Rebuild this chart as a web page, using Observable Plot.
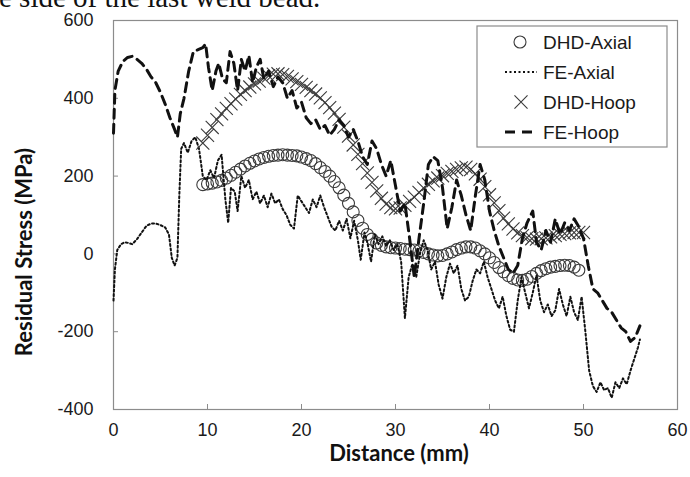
<!DOCTYPE html>
<html>
<head>
<meta charset="utf-8">
<script src="https://cdn.jsdelivr.net/npm/d3@7"></script>
<script src="https://cdn.jsdelivr.net/npm/@observablehq/plot@0.6"></script>
<style>
  html, body { margin: 0; padding: 0; background: #fff; }
  #chart { position: relative; width: 690px; height: 477px; overflow: hidden; }
</style>
</head>
<body>
<div id="chart"></div>
<script>
// Residual stress profiles: deep-hole drilling (DHD) measurements vs finite element (FE) predictions

const seriesNames = ["DHD-Axial", "FE-Axial", "DHD-Hoop", "FE-Hoop"];
const xTicks = [0, 10, 20, 30, 40, 50, 60];
const yTicks = [-400, -200, 0, 200, 400, 600];
const xTitle = "Distance (mm)";
const yTitle = "Residual Stress (MPa)";
const captionFragment = "e side of the last weld bead.";

const dhdAxialX = [9.5, 10, 10.5, 11, 11.5, 12, 12.5, 13, 13.5, 14, 14.5, 15, 15.5, 16, 16.5, 17, 17.5, 18, 18.5, 19, 19.5, 20, 20.5, 21, 21.5, 22, 22.5, 23, 23.5, 24, 24.5, 25, 25.5, 26, 26.5, 27, 27.5, 28, 28.5, 29, 29.5, 30, 30.5, 31, 31.5, 32, 32.5, 33, 33.5, 34, 34.5, 35, 35.5, 36, 36.5, 37, 37.5, 38, 38.5, 39, 39.5, 40, 40.5, 41, 41.5, 42, 42.5, 43, 43.5, 44, 44.5, 45, 45.5, 46, 46.5, 47, 47.5, 48, 48.5, 49, 49.5];
const dhdAxialY = [178, 180, 182, 185, 189, 195, 202, 210, 218, 226, 233, 239, 244, 248, 251, 253, 254, 255, 254, 253, 252, 249, 245, 240, 232, 222, 212, 200, 186, 170, 151, 130, 108, 86, 66, 50, 38, 28, 22, 18, 16, 15, 14, 12, 11, 10, 8, 4, 0, -3, -5, -4, 0, 5, 11, 15, 18, 18, 15, 8, 0, -10, -22, -35, -46, -56, -63, -67, -68, -65, -58, -50, -43, -38, -34, -32, -30, -29, -30, -34, -42];

const dhdHoopX = [9.5, 10, 10.5, 11, 11.5, 12, 12.5, 13, 13.5, 14, 14.5, 15, 15.5, 16, 16.5, 17, 17.5, 18, 18.5, 19, 19.5, 20, 20.5, 21, 21.5, 22, 22.5, 23, 23.5, 24, 24.5, 25, 25.5, 26, 26.5, 27, 27.5, 28, 28.5, 29, 29.5, 30, 30.5, 31, 31.5, 32, 32.5, 33, 33.5, 34, 34.5, 35, 35.5, 36, 36.5, 37, 37.5, 38, 38.5, 39, 39.5, 40, 40.5, 41, 41.5, 42, 42.5, 43, 43.5, 44, 44.5, 45, 45.5, 46, 46.5, 47, 47.5, 48, 48.5, 49, 49.5, 50];
const dhdHoopY = [285, 305, 325, 345, 360, 374, 386, 398, 410, 420, 429, 437, 444, 452, 458, 462, 463, 461, 456, 450, 443, 436, 428, 420, 411, 401, 389, 376, 362, 346, 326, 303, 280, 256, 232, 208, 184, 162, 143, 128, 119, 116, 118, 125, 135, 146, 158, 169, 179, 188, 195, 201, 207, 212, 217, 221, 223, 217, 206, 192, 173, 152, 131, 111, 92, 77, 64, 54, 47, 42, 39, 38, 39, 41, 44, 47, 50, 52, 54, 55, 55, 55];

const feAxialX = [0, 0.15, 0.4, 0.8, 1.2, 1.6, 2, 2.5, 3, 3.5, 4, 4.5, 5, 5.5, 5.9, 6.2, 6.5, 6.8, 7, 7.2, 7.5, 7.9, 8.3, 8.7, 9.1, 9.5, 9.9, 10.3, 10.7, 11.1, 11.5, 11.9, 12.2, 12.5, 12.9, 13.2, 13.6, 14, 14.4, 14.8, 15.2, 15.6, 16, 16.4, 16.8, 17.2, 17.6, 18, 18.4, 18.8, 19.2, 19.6, 20, 20.4, 20.8, 21.2, 21.6, 22, 22.4, 22.8, 23.2, 23.6, 24, 24.4, 24.8, 25.2, 25.6, 26, 26.3, 26.7, 27, 27.4, 27.8, 28.2, 28.6, 29, 29.4, 29.8, 30.2, 30.6, 31, 31.4, 31.8, 32.2, 32.6, 33, 33.4, 33.8, 34.2, 34.6, 35, 35.4, 35.8, 36.2, 36.6, 37, 37.4, 37.8, 38.2, 38.6, 39, 39.4, 39.8, 40.2, 40.6, 41, 41.4, 41.8, 42.2, 42.6, 43, 43.4, 43.8, 44.2, 44.6, 45, 45.4, 45.8, 46.2, 46.6, 47, 47.4, 47.8, 48.2, 48.6, 49, 49.4, 49.8, 50.2, 50.6, 51, 51.4, 51.8, 52.2, 52.6, 53, 53.4, 53.8, 54.2, 54.6, 55, 55.4, 55.8, 56];
const feAxialY = [-120, -40, 10, 25, 30, 28, 25, 38, 55, 72, 78, 78, 74, 68, 50, -10, -30, -10, 150, 270, 285, 260, 290, 300, 270, 200, 190, 215, 195, 240, 255, 140, 80, 170, 160, 110, 200, 170, 190, 140, 160, 130, 150, 120, 155, 130, 140, 115, 100, 75, 65, 150, 135, 120, 105, 140, 120, 150, 120, 95, 70, 60, 85, 60, 90, 40, 85, 35, -15, 55, 30, -20, 50, 25, 45, 20, 35, 10, 25, -20, -165, -60, -25, -60, 0, 35, 10, -40, -20, -80, -115, -60, -25, -50, -30, -90, -120, -110, -70, -40, -50, -20, -60, -90, -120, -140, -110, -160, -195, -200, -120, -60, -100, -140, -100, -55, -120, -150, -130, -160, -145, -90, -130, -160, -110, -150, -170, -110, -200, -300, -340, -355, -330, -350, -345, -370, -330, -345, -320, -335, -300, -270, -240, -220];

const feHoopX = [0, 0.15, 0.5, 1, 1.5, 2, 2.5, 3, 3.5, 4, 4.5, 5, 5.5, 6, 6.5, 6.8, 7.1, 7.5, 8, 8.5, 9, 9.5, 9.8, 10.1, 10.5, 10.9, 11.2, 11.6, 12, 12.4, 12.8, 13.2, 13.6, 14, 14.4, 14.8, 15.2, 15.6, 16, 16.5, 17, 17.5, 18, 18.5, 19, 19.5, 20, 20.5, 21, 21.5, 22, 22.5, 23, 23.5, 24, 24.5, 25, 25.5, 26, 26.5, 27, 27.5, 28, 28.5, 29, 29.5, 30, 30.5, 31, 31.5, 32, 32.5, 33, 33.5, 34, 34.5, 35, 35.5, 36, 36.5, 37, 37.5, 38, 38.5, 39, 39.5, 40, 40.5, 41, 41.5, 42, 42.5, 43, 43.5, 44, 44.6, 45, 45.5, 46, 46.5, 47, 47.5, 48, 48.5, 49, 49.5, 50, 50.5, 51, 51.5, 52, 52.5, 53, 53.5, 54, 54.5, 55, 55.5, 56];
const feHoopY = [310, 420, 470, 495, 505, 508, 500, 490, 475, 455, 440, 415, 385, 350, 320, 300, 360, 400, 470, 520, 525, 530, 540, 480, 420, 470, 490, 450, 440, 520, 490, 420, 500, 470, 510, 440, 480, 500, 450, 470, 430, 455, 440, 400, 420, 375, 390, 350, 335, 345, 320, 330, 305, 320, 345, 330, 300, 320, 290, 250, 230, 290, 270, 230, 200, 240, 175, 110, 130, 40, -60, 40, 130, 230, 250, 240, 170, 65, 120, 190, 150, 100, 60, 150, 230, 190, 110, 60, 20, -10, -40, -50, -30, 40, 80, 110, 30, 10, 60, 30, 90, 50, 80, 60, 90, 70, 40, -30, -90, -100, -120, -140, -150, -170, -190, -200, -225, -215, -185];

const rows = (xs, ys) => xs.map((x, i) => ({x, y: ys[i]}));
const dhdAxial = rows(dhdAxialX, dhdAxialY);
const feAxial = rows(feAxialX, feAxialY);
const dhdHoop = rows(dhdHoopX, dhdHoopY);
const feHoop = rows(feHoopX, feHoopY);

const frameColor = "#8c8c8c";
const inkColor = "#1a1a1a";
const markerColor = "#3a3a3a";
const sans = "'Liberation Sans', Arial, sans-serif";
const titleFont = "Lato, 'Open Sans', sans-serif";

const circleR = 6;
const timesR = 6;

const chart = Plot.plot({
  width: 690,
  height: 477,
  marginLeft: 113,
  marginRight: 13,
  marginTop: 20,
  marginBottom: 68,
  style: {fontFamily: sans, fontSize: "18px", background: "white", color: inkColor},
  x: {domain: [0, 60], label: null},
  y: {domain: [-400, 600], label: null},
  marks: [
    Plot.frame({stroke: frameColor, strokeWidth: 1.2}),
    // inward tick marks
    Plot.axisX({ticks: xTicks, tickSize: -5, tickFormat: () => "", color: frameColor, label: null}),
    Plot.axisY({ticks: yTicks, tickSize: -5, tickFormat: () => "", color: frameColor, label: null}),
    // tick labels
    Plot.axisX({ticks: xTicks, tickSize: 0, tickPadding: 14, tickFormat: d => String(d), color: inkColor, fontSize: 18, label: null}),
    Plot.axisY({ticks: yTicks, tickSize: 0, tickPadding: 20, tickFormat: d => String(d), color: inkColor, fontSize: 18, label: null}),
    // series
    Plot.dot(dhdAxial, {x: "x", y: "y", r: circleR, stroke: markerColor, strokeWidth: 1.1, fill: "none"}),
    Plot.line(feAxial, {x: "x", y: "y", stroke: "#111", strokeWidth: 2, strokeDasharray: "2 2.5"}),
    Plot.dot(dhdHoop, {x: "x", y: "y", symbol: "times", r: timesR, stroke: markerColor, strokeWidth: 1.1}),
    Plot.line(feHoop, {x: "x", y: "y", stroke: "#111", strokeWidth: 3, strokeDasharray: "9 6"})
  ]
});

document.getElementById("chart").appendChild(chart);

const svg = d3.select(chart);

// axis titles
svg.append("text")
  .attr("x", 399).attr("y", 453).attr("dy", "0.35em")
  .attr("text-anchor", "middle")
  .attr("font-family", titleFont).attr("font-weight", "bold").attr("font-size", 22)
  .attr("fill", "#111")
  .text(xTitle);
svg.append("text")
  .attr("transform", "translate(24,252) rotate(-90)")
  .attr("dy", "0.35em")
  .attr("text-anchor", "middle")
  .attr("font-family", titleFont).attr("font-weight", "bold").attr("font-size", 22)
  .attr("fill", "#111")
  .text(yTitle);

// partial caption line running off the top edge
svg.append("text")
  .attr("x", -1).attr("y", 7)
  .attr("text-anchor", "start")
  .attr("font-family", "'Liberation Serif', 'Times New Roman', serif")
  .attr("font-size", 29)
  .attr("fill", "#111")
  .text(captionFragment);

// legend box
const legend = svg.append("g").attr("transform", "translate(477,26)");
legend.append("rect")
  .attr("width", 190).attr("height", 121)
  .attr("fill", "white").attr("stroke", frameColor).attr("stroke-width", 1.2);
const rowY = [16, 46, 76, 106];
const keys = legend.selectAll("g.key").data(seriesNames).join("g")
  .attr("class", "key")
  .attr("transform", (d, i) => `translate(0,${rowY[i]})`);
keys.append("text")
  .attr("x", 66).attr("dy", "0.35em")
  .attr("text-anchor", "start")
  .attr("font-family", sans).attr("font-size", 19).attr("fill", inkColor)
  .text(d => d);
keys.each(function (d, i) {
  const g = d3.select(this);
  if (i === 0) {
    g.append("circle").attr("cx", 43).attr("r", circleR)
      .attr("fill", "none").attr("stroke", markerColor).attr("stroke-width", 1.1);
  } else if (i === 1) {
    g.append("line").attr("x1", 28).attr("x2", 60)
      .attr("stroke", "#111").attr("stroke-width", 2).attr("stroke-dasharray", "2 2.5");
  } else if (i === 2) {
    g.append("path").attr("transform", "translate(44,0)")
      .attr("d", d3.symbol(d3.symbolTimes, timesR * timesR * Math.PI)())
      .attr("fill", "none").attr("stroke", markerColor).attr("stroke-width", 1.1);
  } else {
    g.append("line").attr("x1", 28).attr("x2", 57)
      .attr("stroke", "#111").attr("stroke-width", 3).attr("stroke-dasharray", "10 7");
  }
});
</script>
</body>
</html>
